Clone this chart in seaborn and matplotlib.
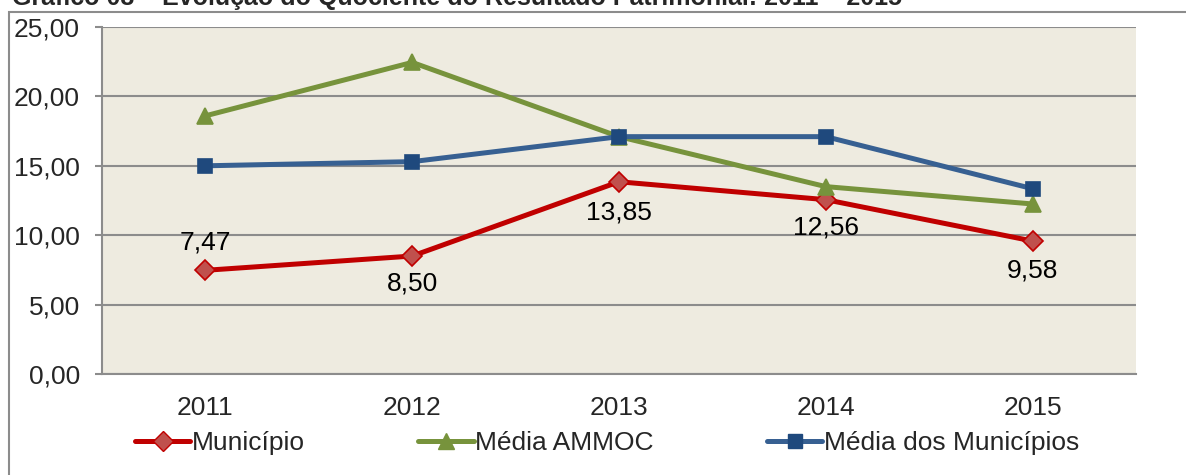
import pandas as pd
import numpy as np
import matplotlib
matplotlib.use('Agg')
import matplotlib.pyplot as plt
import seaborn as sns
from matplotlib.patches import Rectangle

# values
anos = ['2011', '2012', '2013', '2014', '2015']
municipio = [7.47, 8.50, 13.85, 12.56, 9.58]
media_ammoc = [18.6, 22.45, 17.1, 13.5, 12.25]
media_municipios = [15.0, 15.3, 17.1, 17.1, 13.35]
series_names = ['Município', 'Média AMMOC', 'Média dos Municípios']

titulo = 'Gráfico 08 – Evolução do Quociente do Resultado Patrimonial: 2011 – 2015'

df = pd.DataFrame({
    'ano': anos * 3,
    'valor': municipio + media_ammoc + media_municipios,
    'serie': [series_names[0]] * 5 + [series_names[1]] * 5 + [series_names[2]] * 5,
})

sns.set_style('white')
plt.rcParams['font.family'] = ['Liberation Sans', 'DejaVu Sans']
FS = 19

fig = plt.figure(figsize=(11.86, 4.75), dpi=100)
ax = fig.add_axes([102 / 1186, 1 - 374 / 475, (1136 - 102) / 1186, (374 - 27) / 475])

line_colors = ['#C00000', '#77933C', '#376092']
face_colors = ['#C0504D', '#77933C', '#1F497D']
markers = ['D', '^', 's']
sizes = [10, 11, 10]

sns.lineplot(data=df, x='ano', y='valor', hue='serie', style='serie',
             palette=line_colors, markers=markers, dashes=False,
             linewidth=3.6, markersize=10, ax=ax, legend=False, sort=False)

# marker styling per series
for i, line in enumerate(ax.get_lines()[:3]):
    line.set_markerfacecolor(face_colors[i])
    line.set_markeredgecolor(line_colors[i] if i == 0 else face_colors[i])
    line.set_markeredgewidth(1.2)
    line.set_markersize(sizes[i])

# data labels for Município
offsets = [20, -20, -22, -20, -21]
for i, (a, v) in enumerate(zip(anos, municipio)):
    ax.annotate(f'{v:.2f}'.replace('.', ','), (i, v), xytext=(0, offsets[i]),
                textcoords='offset points', ha='center', va='center',
                fontsize=FS, color='black')

ax.set_facecolor('#EEEBE0')
ax.set_ylim(0, 25)
ax.set_xlim(-0.5, 4.5)
ax.set_yticks(np.arange(0, 26, 5))
ax.set_yticklabels([f'{t:.2f}'.replace('.', ',') for t in np.arange(0, 26, 5)])
ax.yaxis.grid(True, color='#8C8C8C', linewidth=1.5)
ax.xaxis.grid(False)
ax.set_axisbelow(True)
ax.set_xlabel('')
ax.set_ylabel('')
for side in ['top', 'right']:
    ax.spines[side].set_visible(False)
for side in ['left', 'bottom']:
    ax.spines[side].set_color('#8C8C8C')
    ax.spines[side].set_linewidth(1.5)
ax.tick_params(axis='y', left=True, length=5, width=1.5, color='#8C8C8C',
               labelsize=FS, pad=11)
ax.tick_params(axis='x', bottom=False, labelsize=FS, pad=12)

# legend at bottom
handles = []
for i in range(3):
    h, = ax.plot([], [], color=line_colors[i], linewidth=3.6, marker=markers[i],
                 markersize=sizes[i], markerfacecolor=face_colors[i],
                 markeredgecolor=line_colors[i] if i == 0 else face_colors[i])
    handles.append(h)
fig.legend(handles, series_names, loc='center',
           bbox_to_anchor=(0.5 + 14 / 1186, 1 - 443 / 475),
           ncol=3, frameon=False, fontsize=FS, handlelength=2.1,
           handletextpad=0.05, columnspacing=4.3)

# outer chart frame
fig.patches.append(Rectangle((9 / 1186, -0.1), 1.2, 1 - 12 / 475 + 0.1,
                             transform=fig.transFigure, fill=False,
                             edgecolor='#8C8C8C', linewidth=1.5))

# title, cut off at the top edge like in the source
fig.text(12 / 1186, 1 - 5 / 475, titulo, fontsize=18, fontweight='bold',
         va='baseline', ha='left')

fig.savefig('out.png', dpi=100)
